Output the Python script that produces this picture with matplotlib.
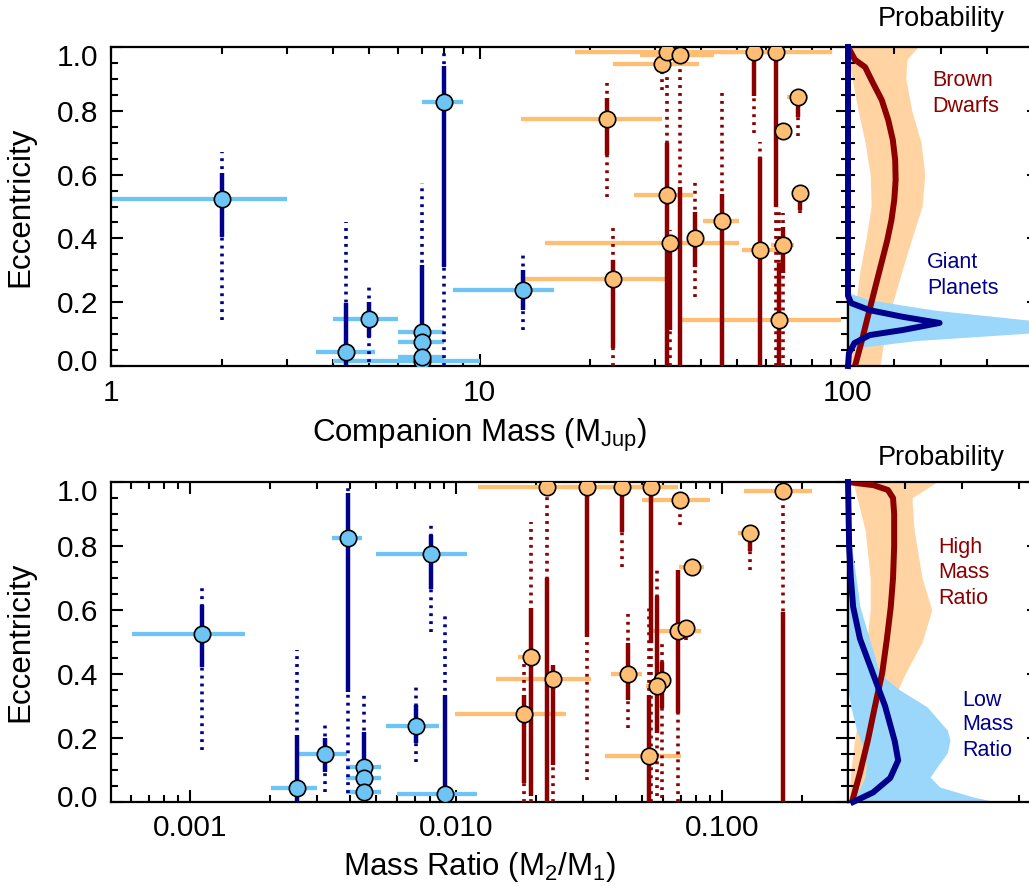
import numpy as np
import matplotlib.pyplot as plt
from matplotlib.ticker import LogLocator, MultipleLocator, NullFormatter
from matplotlib.transforms import ScaledTranslation

plt.rcParams['font.family'] = ['Liberation Sans', 'DejaVu Sans']
plt.rcParams['mathtext.fontset'] = 'custom'
plt.rcParams['mathtext.rm'] = 'Liberation Sans'
plt.rcParams['mathtext.default'] = 'regular'

LTBLUE = '#6EC4F5'
NAVY = '#00008C'
ORANGE = '#FFBE73'
DKRED = '#8C0000'
FILL_OR = '#FFD3A2'
FILL_BL = '#9BD7FA'

# ---------------- top panel: companion mass ----------------
# giant planets (mass, ecc, mass range, 68% ecc range, 95% ecc range)
pl_mass = [7.0, 2.0, 4.35, 5.0, 7.0, 7.0, 7.0, 8.0, 13.1]
pl_ecc = [0.015, 0.523, 0.043, 0.147, 0.107, 0.074, 0.029, 0.827, 0.238]
pl_mlo = [4.0, 1.0, 3.6, 4.0, 6.0, 6.0, 6.0, 7.0, 8.5]
pl_mhi = [10.0, 3.0, 5.2, 6.0, 8.0, 8.0, 8.0, 9.0, 15.9]
pl_e1lo = [0.0, 0.404, 0.0, 0.092, np.nan, np.nan, np.nan, 0.311, 0.175]
pl_e1hi = [0.317, 0.605, 0.197, 0.202, np.nan, np.nan, np.nan, 0.94, 0.30]
pl_e2lo = [0.0, 0.144, 0.0, 0.013, np.nan, np.nan, np.nan, 0.0, 0.113]
pl_e2hi = [0.573, 0.671, 0.452, 0.249, np.nan, np.nan, np.nan, 0.98, 0.358]

# brown dwarfs
bd_mass = [22.2, 23.1, 31.2, 32.3, 35.1, 55.6, 63.7, 32.3, 32.8, 38.4, 45.4, 57.7, 64.8, 66.7, 66.7, 73.0, 74.0]
bd_ecc = [0.774, 0.274, 0.946, 0.985, 0.975, 0.985, 0.985, 0.536, 0.385, 0.40, 0.455, 0.364, 0.144, 0.738, 0.379, 0.844, 0.541]
bd_mlo = [13.0, 13.0, 23.1, 18.2, 27.3, 45.0, 55.0, 26.2, 15.1, np.nan, 40.4, 51.6, 34.5, np.nan, 61.7, 68.3, np.nan]
bd_mhi = [31.3, 32.3, 39.4, 50.0, 43.2, 70.0, 90.6, 38.0, 50.6, np.nan, 50.6, 64.4, 95.7, np.nan, 71.3, 77.7, np.nan]
bd_e1lo = [0.661, 0.055, np.nan, np.nan, 0.0, 0.846, 0.50, 0.0, 0.113, 0.311, 0.0, 0.0, 0.0, np.nan, 0.29, 0.78, 0.49]
bd_e1hi = [0.839, 0.332, np.nan, np.nan, 0.56, 1.0, 1.0, 0.70, 0.405, 0.484, 0.538, 0.656, 0.322, np.nan, 0.437, 0.844, 0.541]
bd_e2lo = [0.531, 0.0, 0.865, np.nan, 0.0, 0.73, 0.0, 0.0, 0.0, 0.217, 0.0, 0.0, 0.0, np.nan, 0.0, 0.72, 0.48]
bd_e2hi = [0.888, 0.433, 0.92, np.nan, 0.93, 1.0, 1.0, 0.92, 0.426, 0.578, 0.855, 0.703, 0.499, np.nan, 0.48, 0.844, 0.56]

# ---------------- bottom panel: mass ratio ----------------
lq_q = [0.00111, 0.00252, 0.00322, 0.00392, 0.00452, 0.00452, 0.00452, 0.00805, 0.00706, 0.00909]
lq_ecc = [0.524, 0.043, 0.150, 0.824, 0.110, 0.074, 0.032, 0.774, 0.238, 0.025]
lq_qlo = [0.000604, 0.00201, 0.00253, 0.00343, 0.00385, 0.00385, 0.00385, 0.00502, 0.00544, 0.00603]
lq_qhi = [0.00161, 0.00301, 0.0039, 0.00442, 0.00523, 0.00523, 0.00523, 0.011, 0.00862, 0.012]
lq_e1lo = [0.423, 0.0, 0.095, 0.345, np.nan, np.nan, 0.022, 0.666, 0.183, 0.0]
lq_e1hi = [0.616, 0.209, 0.201, 0.967, np.nan, np.nan, 0.22, 0.834, 0.303, 0.334]
lq_e2lo = [0.1625, 0.0, 0.032, 0.027, np.nan, np.nan, 0.0, 0.532, 0.124, 0.0]
lq_e2hi = [0.668, 0.475, 0.248, 0.98, np.nan, np.nan, 0.334, 0.871, 0.3625, 0.595]

hq_q = [0.0221, 0.031, 0.0422, 0.0541, 0.0695, 0.170, 0.1274, 0.0773, 0.0682, 0.0731, 0.0442, 0.0598, 0.0571, 0.0533, 0.0191, 0.0231, 0.01806]
hq_ecc = [0.983, 0.983, 0.983, 0.983, 0.944, 0.973, 0.842, 0.733, 0.534, 0.543, 0.399, 0.381, 0.3625, 0.144, 0.454, 0.384, 0.274]
hq_qlo = [0.0121, 0.025, 0.035, 0.045, 0.0502, 0.1206, 0.115, 0.0689, 0.0536, np.nan, 0.0384, np.nan, 0.052, 0.0363, 0.0171, 0.0141, 0.0099]
hq_qhi = [0.030, 0.040, 0.050, 0.0683, 0.0903, 0.219, 0.1395, 0.0855, 0.0833, np.nan, 0.0502, np.nan, 0.062, 0.0705, 0.0209, 0.0322, 0.026]
hq_e1lo = [0.0, 0.517, 0.845, 0.496, np.nan, 0.0, 0.785, np.nan, 0.277, np.nan, 0.319, 0.293, 0.215, 0.0, 0.02, 0.116, 0.058]
hq_e1hi = [0.699, 0.983, 0.983, 0.983, np.nan, 0.595, 0.842, np.nan, 0.725, np.nan, 0.496, 0.438, 0.644, 0.335, 0.605, 0.428, 0.334]
hq_e2lo = [0.0, 0.069, 0.735, 0.0, 0.866, 0.0, 0.725, np.nan, 0.0, 0.506, 0.23, 0.012, 0.02, 0.0, 0.0, 0.0, 0.0]
hq_e2hi = [0.959, 0.983, 0.983, 0.983, 0.944, 0.949, 0.842, np.nan, 0.725, 0.579, 0.5875, 0.506, 0.73, 0.62, 0.876, 0.428, 0.433]

# ---------------- probability side panels ----------------
# top: brown dwarfs band and model curve
bd_band_e = [1.0, 0.96, 0.9, 0.8, 0.7, 0.6, 0.5, 0.4, 0.3, 0.2, 0.1, 0.0]
bd_band_lo = [0.0, 0.02, 0.09, 0.22, 0.37, 0.48, 0.50, 0.39, 0.26, 0.17, 0.09, 0.04]
bd_band_hi = [1.51, 1.27, 1.25, 1.38, 1.58, 1.66, 1.60, 1.38, 1.17, 0.97, 0.80, 0.69]
bd_curve_e = [1.0, 0.96, 0.937, 0.887, 0.834, 0.771, 0.708, 0.646, 0.583, 0.52, 0.458, 0.395, 0.332, 0.27, 0.207, 0.144, 0.08, 0.01]
bd_curve_p = [0.0, 0.15, 0.37, 0.54, 0.73, 0.87, 0.97, 1.02, 1.03, 1.0, 0.94, 0.85, 0.74, 0.63, 0.52, 0.41, 0.30, 0.17]
# top: giant planets band and model curve
gp_band_e = [0.23, 0.207, 0.175, 0.144, 0.122, 0.103, 0.08, 0.06, 0.05]
gp_band_hi = [0.0, 0.47, 1.88, 3.9, 4.3, 3.9, 1.5, 0.33, 0.0]
gp_curve_e = [1.0, 0.22, 0.197, 0.175, 0.154, 0.135, 0.113, 0.097, 0.072, 0.04, 0.0]
gp_curve_p = [0.0, 0.0, 0.07, 0.47, 1.19, 1.98, 1.19, 0.47, 0.14, 0.02, 0.0]

# bottom: high mass ratio
hq_band_e = [1.0, 0.95, 0.85, 0.7, 0.6, 0.5, 0.4, 0.3, 0.2, 0.1, 0.0]
hq_band_lo = [0.09, 0.16, 0.30, 0.39, 0.39, 0.33, 0.30, 0.22, 0.12, 0.05, 0.02]
hq_band_hi = [1.56, 1.12, 1.16, 1.30, 1.47, 1.30, 1.00, 0.75, 0.60, 0.45, 0.30]
hq_curve_e = [1.0, 0.99, 0.975, 0.95, 0.9, 0.8, 0.7, 0.609, 0.506, 0.403, 0.297, 0.194, 0.091, 0.0]
hq_curve_p = [0.0, 0.45, 0.70, 0.79, 0.81, 0.81, 0.79, 0.75, 0.68, 0.60, 0.47, 0.35, 0.21, 0.07]
# bottom: low mass ratio
lq_band_e = [1.0, 0.82, 0.61, 0.40, 0.35, 0.297, 0.225, 0.194, 0.153, 0.109, 0.078, 0.047, 0.016, 0.0]
lq_band_lo = [0.0, 0.0, 0.0, 0.0, 0.0, 0.05, 0.15, 0.22, 0.30, 0.32, 0.30, 0.22, 0.10, 0.05]
lq_band_hi = [0.0, 0.05, 0.21, 0.56, 0.91, 1.39, 1.74, 1.79, 1.74, 1.56, 1.44, 1.61, 2.19, 2.6]
lq_curve_e = [1.0, 0.8, 0.7, 0.61, 0.51, 0.40, 0.30, 0.19, 0.13, 0.075, 0.03, 0.0]
lq_curve_p = [0.0, 0.02, 0.05, 0.09, 0.21, 0.44, 0.65, 0.82, 0.88, 0.74, 0.44, 0.09]

W, H = 1029, 886
FS = 21.5
FL = 22.5


def draw_points(ax, x, y, xlo, xhi, e1lo, e1hi, e2lo, e2hi, hcol, vcol, face):
    for i in range(len(x)):
        if not np.isnan(xlo[i]):
            ax.plot([xlo[i], xhi[i]], [y[i], y[i]], color=hcol, lw=3.1,
                    solid_capstyle='butt', zorder=2)
    for i in range(len(x)):
        if not np.isnan(e2lo[i]):
            ax.plot([x[i], x[i]], [e2lo[i], e2hi[i]], color=vcol, lw=2.6,
                    ls=(0, (0.8, 1.4)), zorder=3)
        if not np.isnan(e1lo[i]):
            ax.plot([x[i], x[i]], [e1lo[i], e1hi[i]], color=vcol, lw=3.2,
                    solid_capstyle='butt', zorder=3)
    ax.plot(x, y, 'o', ms=11.8, mfc=face, mec='k', mew=1.2, ls='none', zorder=4)


def style_main(ax):
    ax.set_ylim(0, 1)
    ax.set_yticks([0, 0.2, 0.4, 0.6, 0.8, 1.0])
    ax.set_yticklabels(['0.0', '0.2', '0.4', '0.6', '0.8', '1.0'])
    ax.yaxis.set_minor_locator(MultipleLocator(0.05))
    ax.xaxis.set_minor_locator(LogLocator(base=10, subs=np.arange(2, 10)))
    ax.xaxis.set_minor_formatter(NullFormatter())
    ax.tick_params(which='both', direction='in', top=True, right=True,
                   width=1.5, labelsize=FS, pad=9)
    ax.tick_params(which='major', length=8.5)
    ax.tick_params(which='minor', length=5)
    for s in ax.spines.values():
        s.set_linewidth(1.6)
    labs = ax.get_yticklabels()
    fig = ax.figure
    labs[0].set_transform(labs[0].get_transform() + ScaledTranslation(0, 6 / 100, fig.dpi_scale_trans))
    labs[-1].set_transform(labs[-1].get_transform() + ScaledTranslation(0, -8 / 100, fig.dpi_scale_trans))
    ax.set_ylabel('Eccentricity', fontsize=FL)
    ax.yaxis.set_label_coords(-0.102, 0.5)


def style_side(ax, xmax):
    ax.set_ylim(0, 1)
    ax.set_xlim(0, xmax)
    ax.set_xticks([1, 2, 3])
    ax.yaxis.set_major_locator(MultipleLocator(0.2))
    ax.yaxis.set_minor_locator(MultipleLocator(0.05))
    ax.tick_params(which='both', direction='in', length=5, width=1.5,
                   labelleft=False, labelbottom=False, top=True, right=True)
    ax.tick_params(axis='y', which='minor', right=False)
    for s in ax.spines.values():
        s.set_linewidth(1.6)


fig = plt.figure(figsize=(W / 100, H / 100), dpi=100)

# ----- top -----
ax1 = fig.add_axes([111 / W, 1 - 366 / H, 737 / W, 319 / H])
ax1.set_xscale('log')
ax1.set_xlim(1, 100)
draw_points(ax1, pl_mass, pl_ecc, pl_mlo, pl_mhi, pl_e1lo, pl_e1hi, pl_e2lo, pl_e2hi, LTBLUE, NAVY, LTBLUE)
draw_points(ax1, bd_mass, bd_ecc, bd_mlo, bd_mhi, bd_e1lo, bd_e1hi, bd_e2lo, bd_e2hi, ORANGE, DKRED, ORANGE)
ax1.set_xticks([1, 10, 100])
ax1.set_xticklabels(['1', '10', '100'])
style_main(ax1)
ax1.set_xlabel('Companion Mass (M$_{Jup}$)', fontsize=FL)
ax1.xaxis.set_label_coords(0.5, -0.16)

s1 = fig.add_axes([848 / W, 1 - 366 / H, 186 / W, 319 / H])
s1.fill_betweenx(bd_band_e, bd_band_lo, bd_band_hi, color=FILL_OR, lw=0, zorder=1)
s1.fill_betweenx(gp_band_e, 0, gp_band_hi, color=FILL_BL, lw=0, zorder=2)
s1.plot(bd_curve_p, bd_curve_e, color=DKRED, lw=4.3, zorder=3)
s1.plot(gp_curve_p, gp_curve_e, color=NAVY, lw=4.3, zorder=4, clip_on=False)
style_side(s1, 186 / 46.25)

# ----- bottom -----
ax2 = fig.add_axes([111 / W, 1 - 802 / H, 737 / W, 320 / H])
ax2.set_xscale('log')
ax2.set_xlim(0.000505, 0.298)
draw_points(ax2, lq_q, lq_ecc, lq_qlo, lq_qhi, lq_e1lo, lq_e1hi, lq_e2lo, lq_e2hi, LTBLUE, NAVY, LTBLUE)
draw_points(ax2, hq_q, hq_ecc, hq_qlo, hq_qhi, hq_e1lo, hq_e1hi, hq_e2lo, hq_e2hi, ORANGE, DKRED, ORANGE)
ax2.set_xticks([0.001, 0.01, 0.1])
ax2.set_xticklabels(['0.001', '0.010', '0.100'])
style_main(ax2)
ax2.set_xlabel('Mass Ratio (M$_2$/M$_1$)', fontsize=FL)
ax2.xaxis.set_label_coords(0.5, -0.15)

s2 = fig.add_axes([848 / W, 1 - 802 / H, 186 / W, 320 / H])
s2.fill_betweenx(hq_band_e, hq_band_lo, hq_band_hi, color=FILL_OR, lw=0, zorder=1)
s2.fill_betweenx(lq_band_e, lq_band_lo, lq_band_hi, color=FILL_BL, lw=0, zorder=2)
s2.plot(hq_curve_p, hq_curve_e, color=DKRED, lw=4.3, zorder=3)
s2.plot(lq_curve_p, lq_curve_e, color=NAVY, lw=4.3, zorder=4, clip_on=False)
style_side(s2, 186 / 57.0)

# ----- labels -----
fig.text(941 / W, 1 - 19 / H, 'Probability', ha='center', va='center', fontsize=19.5)
fig.text(941 / W, 1 - 458 / H, 'Probability', ha='center', va='center', fontsize=19.5)
for txt, x, y, c in [('Brown', 932, 81, DKRED), ('Dwarfs', 932, 106, DKRED),
                     ('Giant', 927, 263, NAVY), ('Planets', 927, 289, NAVY),
                     ('High', 938, 548, DKRED), ('Mass', 938, 572, DKRED), ('Ratio', 938, 598, DKRED),
                     ('Low', 962, 700, NAVY), ('Mass', 962, 725, NAVY), ('Ratio', 962, 751, NAVY)]:
    fig.text(x / W, 1 - y / H, txt, ha='left', va='center', fontsize=15.5, color=c)

fig.savefig('out.png', dpi=100)
